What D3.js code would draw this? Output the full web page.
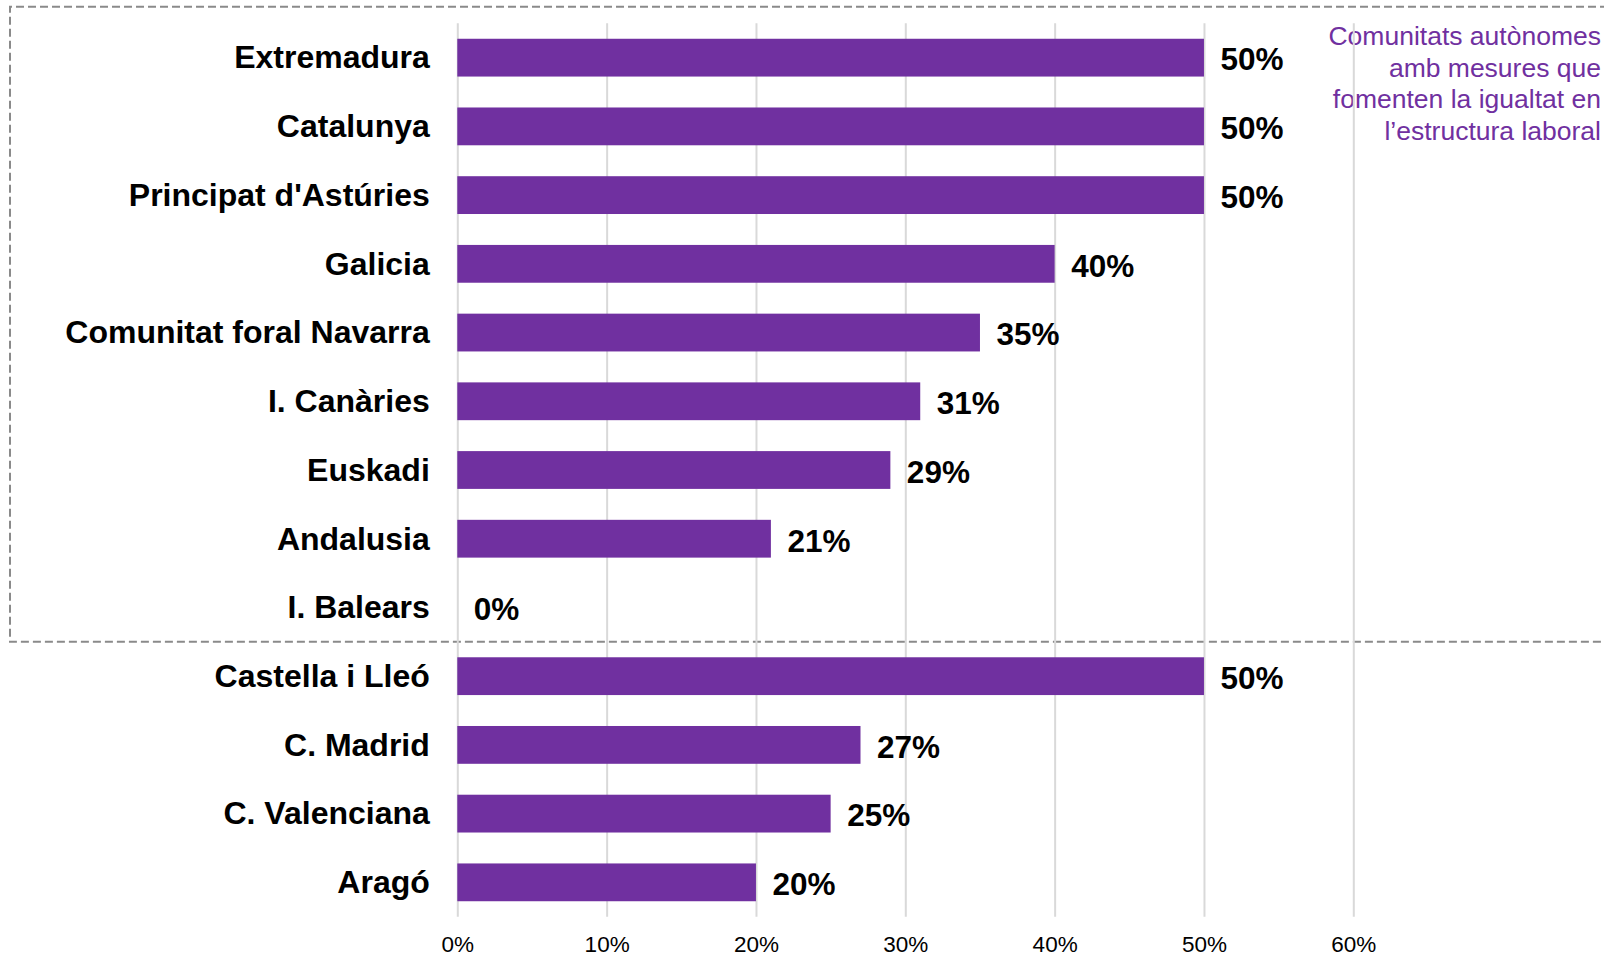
<!DOCTYPE html>
<html>
<head>
<meta charset="utf-8">
<script src="https://cdn.jsdelivr.net/npm/d3@7"></script>
<style>
  body { margin: 0; background: #fff; }
  text { font-family: "Liberation Sans", Arial, sans-serif; }
</style>
</head>
<body>
<div id="chart-area"></div>
<script>
/*
*    comunitats - barres horitzontals
*/
var categories = ["Extremadura", "Catalunya", "Principat d'Astúries", "Galicia",
  "Comunitat foral Navarra", "I. Canàries", "Euskadi", "Andalusia", "I. Balears",
  "Castella i Lleó", "C. Madrid", "C. Valenciana", "Aragó"];
var values = [0.50, 0.50, 0.50, 0.40, 0.35, 0.31, 0.29, 0.21, 0.00, 0.50, 0.27, 0.25, 0.20];
var tickValues = [0, 0.1, 0.2, 0.3, 0.4, 0.5, 0.6];
var noteLines = ["Comunitats autònomes", "amb mesures que", "fomenten la igualtat en", "l\u2019estructura laboral"];
var boxedCount = 9; // first rows inside the dashed box

var width = 1604, height = 955;
var purple = "#7030a0";

var svg = d3.select("#chart-area")
  .append("svg")
    .attr("width", width)
    .attr("height", height);

// scales
var x = d3.scaleLinear().domain([0, 0.6]).range([457.3, 1353.3]);
var y = d3.scaleBand().domain(categories).range([23.3, 916.7])
  .paddingInner(0.45).paddingOuter(0.225);

// dashed box round the first group
var gap = (y.step() - y.bandwidth()) / 2;
var boxBottom = y(categories[boxedCount]) - gap;
svg.append("path")
  .attr("d", "M1620,6.7 L10,6.7 L10," + boxBottom + " L1620," + boxBottom)
  .attr("fill", "none")
  .attr("stroke", "#8a8a8a")
  .attr("stroke-width", 2)
  .attr("stroke-dasharray", "8,4");

// note text (top right)
var note = svg.append("text")
  .attr("text-anchor", "end")
  .attr("font-size", "26.5px")
  .style("fill", purple);
note.selectAll("tspan").data(noteLines).enter().append("tspan")
  .attr("x", 1601)
  .attr("y", (d, i) => { return 45 + i * 31.7; })
  .text((d) => { return d; });

// gridlines
var xAxisCall = d3.axisBottom(x).tickValues(tickValues)
  .tickSize(-(916.7 - 23.3))
  .tickFormat(d3.format(".0%"));
var xAxisGroup = svg.append("g")
  .attr("class", "x axis")
  .attr("transform", "translate(0, 916.7)")
  .call(xAxisCall);
xAxisGroup.select(".domain").remove();
xAxisGroup.selectAll(".tick line")
  .attr("stroke", "#d9d9d9")
  .attr("stroke-width", 2);
xAxisGroup.selectAll(".tick text")
  .attr("y", 35.5)
  .attr("dy", 0)
  .attr("font-size", "22.5px")
  .attr("font-family", "'Liberation Sans', Arial, sans-serif")
  .style("fill", "#000");

// bars
svg.selectAll("rect.bar").data(values).enter().append("rect")
  .attr("class", "bar")
  .attr("x", x(0))
  .attr("y", (d, i) => { return y(categories[i]); })
  .attr("width", (d) => { return x(d) - x(0); })
  .attr("height", y.bandwidth())
  .attr("fill", purple);

// category labels
svg.selectAll("text.cat").data(categories).enter().append("text")
  .attr("class", "cat")
  .attr("x", x(0) - 27.5)
  .attr("y", (d) => { return y(d) + y.bandwidth() / 2 + 10.8; })
  .attr("text-anchor", "end")
  .attr("font-size", "32px")
  .attr("font-weight", "bold")
  .style("fill", "#000")
  .text((d) => { return d; });

// value labels
svg.selectAll("text.val").data(values).enter().append("text")
  .attr("class", "val")
  .attr("x", (d) => { return x(d) + 16.5; })
  .attr("y", (d, i) => { return y(categories[i]) + y.bandwidth() / 2 + 12.8; })
  .attr("font-size", "31.5px")
  .attr("font-weight", "bold")
  .style("fill", "#000")
  .text((d) => { return d3.format(".0%")(d); });
</script>
</body>
</html>
